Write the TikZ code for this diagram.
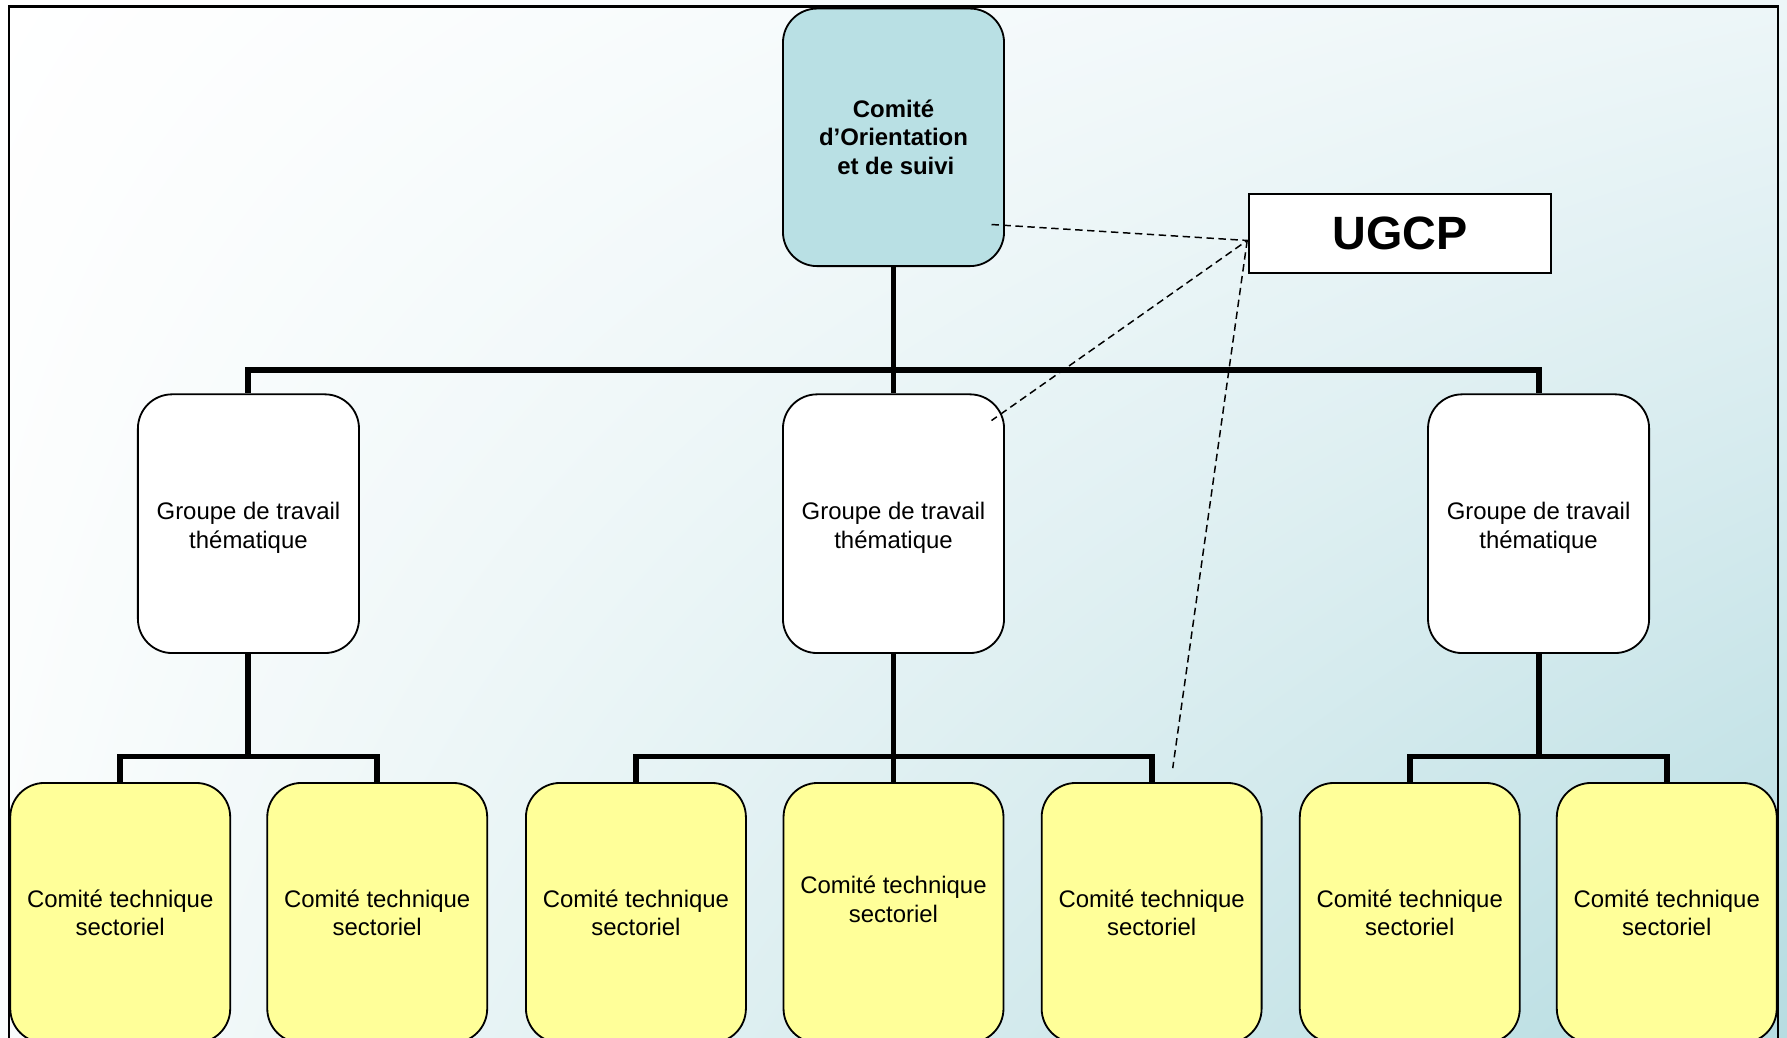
\documentclass[tikz,border=0pt]{standalone}
\usepackage{fontspec}
\setmainfont{Liberation Sans}
\usetikzlibrary{shadings}
\definecolor{cotop}{HTML}{B9E0E4}
\definecolor{coyel}{HTML}{FFFF99}
\definecolor{bgUR}{HTML}{EDF6F8}
\definecolor{bgLL}{HTML}{F9FCFC}
\definecolor{bgLR}{HTML}{B6DCE1}
\begin{document}
\begin{tikzpicture}[x=1pt,y=-1pt,
  box/.style={draw=black, line width=1.6pt, rounded corners=30pt, minimum width=194pt, minimum height=227pt, align=center, inner sep=0pt, font=\fontsize{21}{25}\selectfont},
  boxtext/.style={align=center, inner sep=0pt, font=\fontsize{21}{25}\selectfont},
  grp/.style={box, fill=white, label={[boxtext, yshift=-3.5pt]center:Groupe de travail\\thématique}},
  cts/.style={box, fill=coyel, minimum width=193pt, minimum height=228pt},
  conn/.style={line width=5.2pt},
  ugdash/.style={line width=1.3pt, dash pattern=on 6.5pt off 4pt}]
\useasboundingbox (0,0) rectangle (1568,910);
\clip (0,0) rectangle (1568,910);
\shade[upper left=white, upper right=bgUR, lower left=bgLL, lower right=bgLR] (0,0) rectangle (1568,910);
\draw[line width=2.4pt] (8,1000) -- (8,6) -- (1560,6) -- (1560,1000);
% nodes
\node[box, fill=cotop, font=\bfseries\fontsize{21}{25}\selectfont, minimum height=226pt] (top) at (784,120.5) {Comité\\d’Orientation\\\hspace*{4pt}et de suivi};
\node[grp] (g1) at (218,459.5) {};
\node[grp] (g2) at (784,459.5) {};
\node[grp] (g3) at (1350,459.5) {};
\node[cts] (c1) at (105.5,801) {Comité technique\\sectoriel};
\node[cts] (c2) at (331,801) {Comité technique\\sectoriel};
\node[cts] (c3) at (558,801) {Comité technique\\sectoriel};
\node[cts, label={[boxtext, yshift=12pt]center:Comité technique\\sectoriel}] (c4) at (784,801) {};
\node[cts] (c5) at (1010.5,801) {Comité technique\\sectoriel};
\node[cts] (c6) at (1237,801) {Comité technique\\sectoriel};
\node[cts] (c7) at (1462.5,801) {Comité technique\\sectoriel};
\node[draw, line width=1.3pt, fill=white, minimum width=265pt, minimum height=69.5pt, inner sep=0pt, font=\bfseries\fontsize{41}{45}\selectfont] (ugcp) at (1228.5,205) {UGCP};
% connectors
\draw[conn] (top.south) -- ++(0,90) -| (g1.north);
\draw[conn] (top.south) -- ++(0,90) -| (g3.north);
\draw[conn] (top.south) -- (g2.north);
\draw[conn] (g1.south) -- ++(0,90) -| (c1.north);
\draw[conn] (g1.south) -- ++(0,90) -| (c2.north);
\draw[conn] (g2.south) -- ++(0,90) -| (c3.north);
\draw[conn] (g2.south) -- (c4.north);
\draw[conn] (g2.south) -- ++(0,90) -| (c5.north);
\draw[conn] (g3.south) -- ++(0,90) -| (c6.north);
\draw[conn] (g3.south) -- ++(0,90) -| (c7.north);
% dashed links
\coordinate (u) at ([yshift=-6pt, xshift=-1pt]ugcp.west);
\coordinate (d1) at (870,197);
\coordinate (d2) at (870,369);
\coordinate (d3) at (1029,674);
\draw[ugdash] (d1) -- (u) -- (d2);
\draw[ugdash] (u) -- (d3);
\end{tikzpicture}
\end{document}
